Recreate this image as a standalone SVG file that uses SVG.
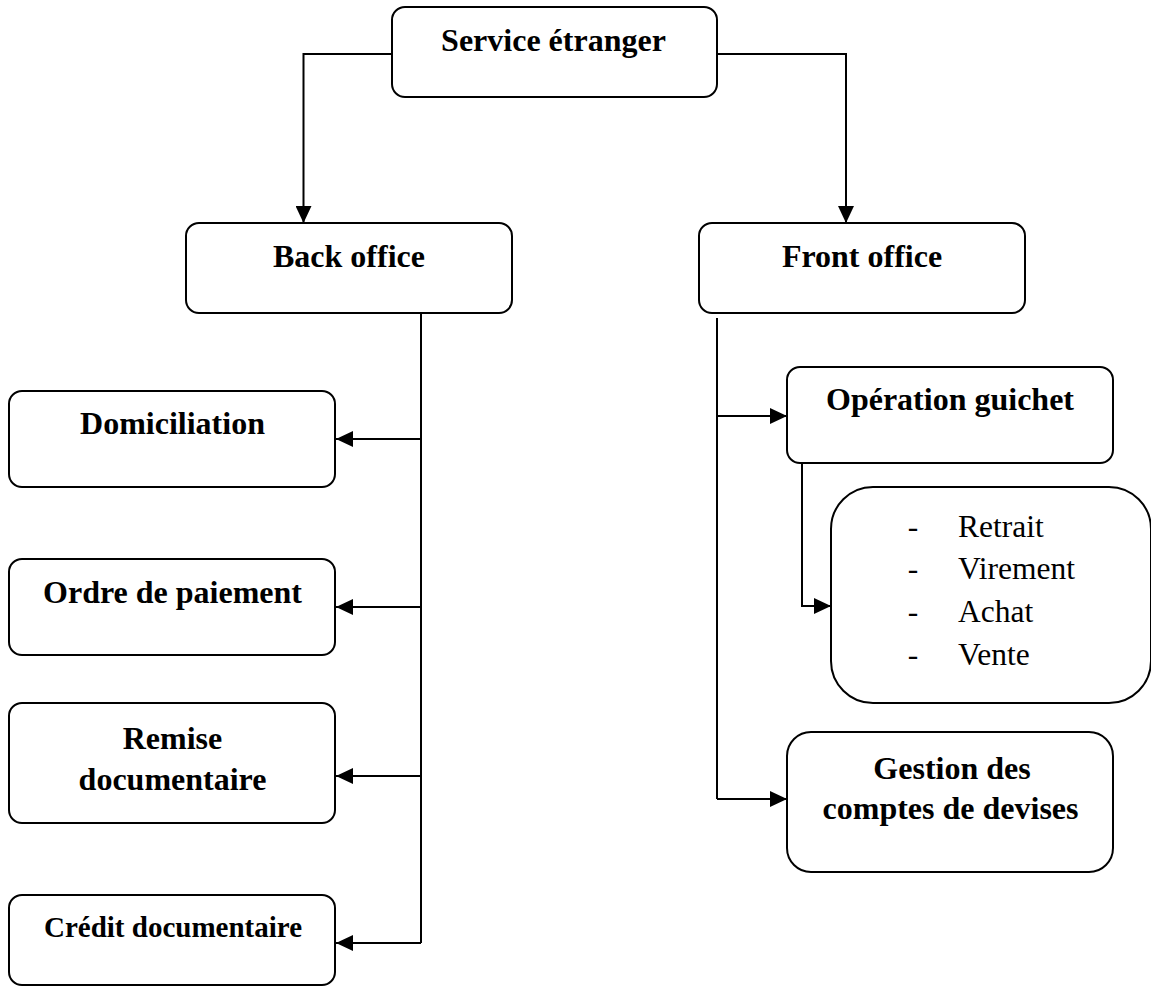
<svg xmlns="http://www.w3.org/2000/svg" width="1151" height="987" viewBox="0 0 1151 987">
  <style>
    .box { fill: #ffffff; stroke: #000000; stroke-width: 2; }
    .lbl { font-family: "Liberation Serif", "Times New Roman", serif; font-weight: bold; font-size: 32px; fill: #000000; text-anchor: middle; }
    .item { font-family: "Liberation Serif", "Times New Roman", serif; font-size: 31.5px; fill: #000000; }
    .wire { fill: none; stroke: #000000; stroke-width: 2; marker-end: url(#head); }
    .plain { fill: none; stroke: #000000; stroke-width: 2; }
  </style>
  <defs>
    <marker id="head" viewBox="0 0 17 16" refX="17" refY="8" markerWidth="17" markerHeight="16" markerUnits="userSpaceOnUse" orient="auto">
      <path d="M0,0 L17,8 L0,16 Z" fill="#000000"/>
    </marker>
  </defs>
  <rect width="1151" height="987" fill="#ffffff"/>

  <!-- connectors -->
  <g id="connectors">
    <path class="wire" d="M392,54 H303.5 V223"/>
    <path class="wire" d="M717,54 H846 V223"/>
    <path class="plain" d="M421,313 V943"/>
    <path class="wire" d="M421,439 H336"/>
    <path class="wire" d="M421,607 H336"/>
    <path class="wire" d="M421,776 H336"/>
    <path class="wire" d="M421,943 H336"/>
    <path class="plain" d="M717,318 V799"/>
    <path class="wire" d="M717,416 H787"/>
    <path class="wire" d="M717,799 H787"/>
    <path class="wire" d="M802,463 V606 H831"/>
  </g>

  <g id="service-etranger">
    <rect class="box" x="392" y="7" width="325" height="90" rx="13"/>
    <text class="lbl" x="553.5" y="51">Service étranger</text>
  </g>

  <g id="back-office">
    <rect class="box" x="186" y="223" width="326" height="90" rx="13"/>
    <text class="lbl" x="349" y="267">Back office</text>
  </g>

  <g id="front-office">
    <rect class="box" x="699" y="223" width="326" height="90" rx="13"/>
    <text class="lbl" x="862" y="267">Front office</text>
  </g>

  <g id="domiciliation">
    <rect class="box" x="9" y="391" width="326" height="96" rx="13"/>
    <text class="lbl" x="172.5" y="434">Domiciliation</text>
  </g>

  <g id="ordre-paiement">
    <rect class="box" x="9" y="559" width="326" height="96" rx="13"/>
    <text class="lbl" x="172.5" y="603">Ordre de paiement</text>
  </g>

  <g id="remise-documentaire">
    <rect class="box" x="9" y="703" width="326" height="120" rx="13"/>
    <text class="lbl" x="172.5" y="749">Remise</text>
    <text class="lbl" x="172.5" y="790">documentaire</text>
  </g>

  <g id="credit-documentaire">
    <rect class="box" x="9" y="895" width="326" height="90" rx="13"/>
    <text class="lbl" x="173" y="937" style="font-size:29px">Crédit documentaire</text>
  </g>

  <g id="operation-guichet">
    <rect class="box" x="787" y="367" width="326" height="96" rx="13"/>
    <text class="lbl" x="950" y="410">Opération guichet</text>
  </g>

  <g id="operations-list">
    <rect class="box" x="831" y="487" width="320" height="216" rx="42"/>
    <text class="item" x="913" y="537" text-anchor="middle">-</text>
    <text class="item" x="958" y="537">Retrait</text>
    <text class="item" x="913" y="579" text-anchor="middle">-</text>
    <text class="item" x="958" y="579">Virement</text>
    <text class="item" x="913" y="622" text-anchor="middle">-</text>
    <text class="item" x="958" y="622">Achat</text>
    <text class="item" x="913" y="665" text-anchor="middle">-</text>
    <text class="item" x="958" y="665">Vente</text>
  </g>

  <g id="gestion-comptes">
    <rect class="box" x="787" y="732" width="326" height="140" rx="24"/>
    <text class="lbl" x="952" y="779">Gestion des</text>
    <text class="lbl" x="950.5" y="819">comptes de devises</text>
  </g>
</svg>
